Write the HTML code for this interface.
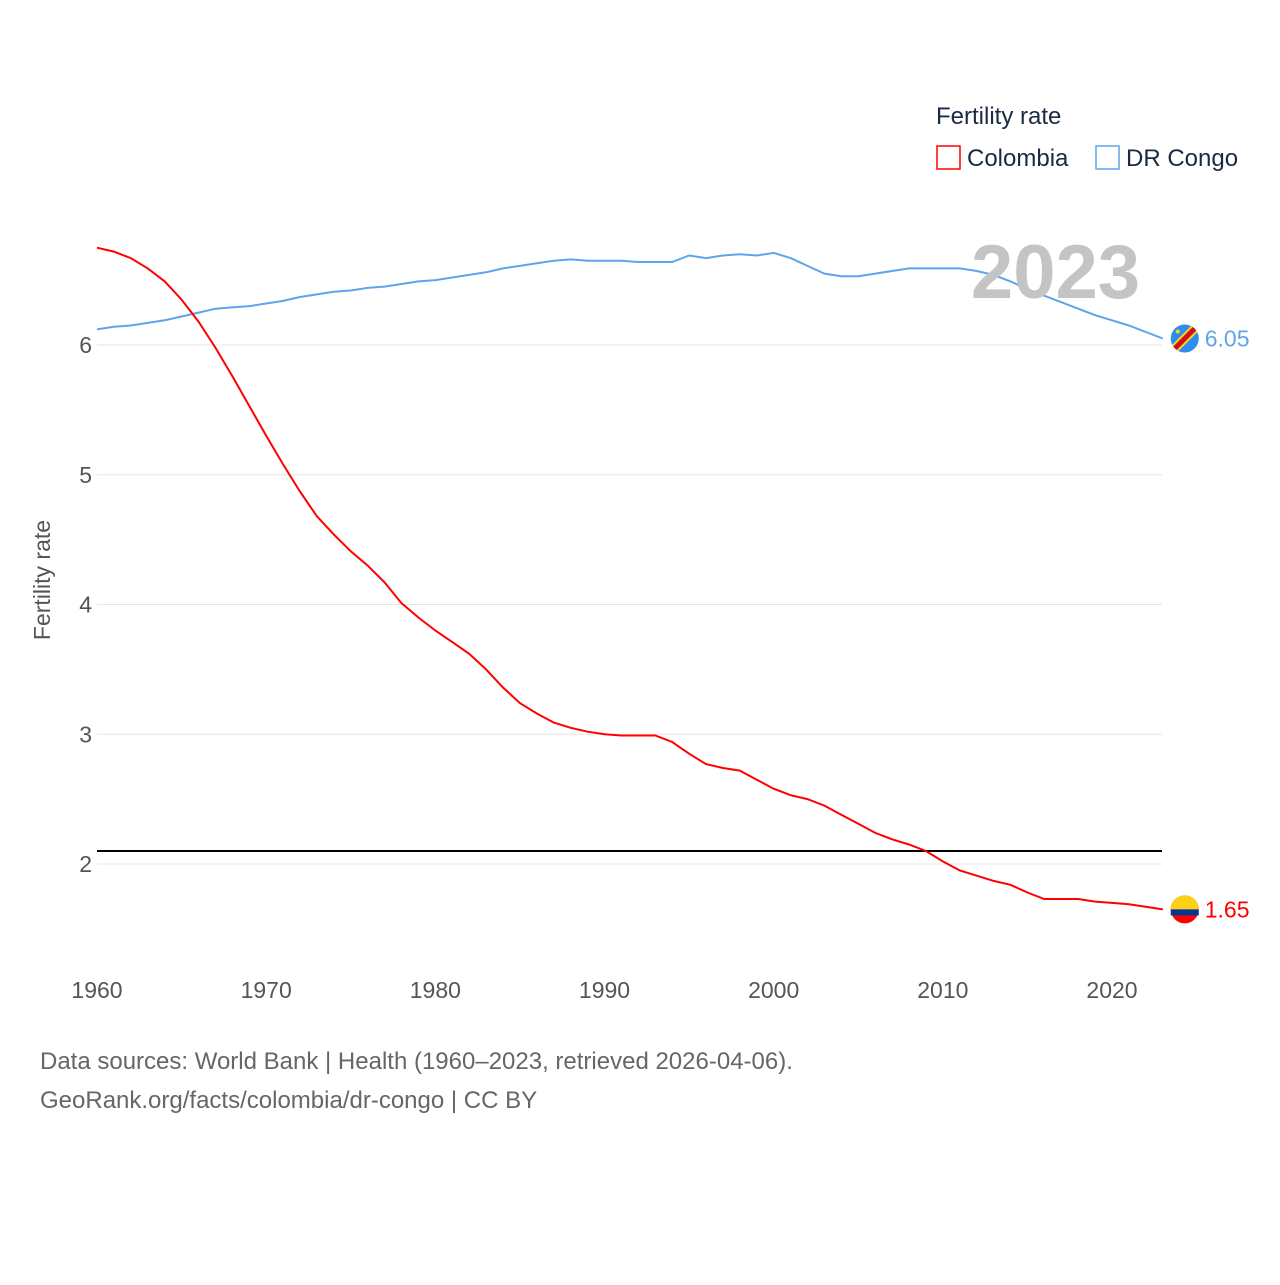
<!DOCTYPE html>
<html><head><meta charset="utf-8">
<style>
body{margin:0;background:#fff;font-family:"Liberation Sans",sans-serif;}
svg text{font-family:"Liberation Sans",sans-serif;}
</style></head>
<body>
<svg id="chart" width="1280" height="1280" viewBox="0 0 1280 1280" xmlns="http://www.w3.org/2000/svg">
<rect width="1280" height="1280" fill="#fff"/>
<defs><clipPath id="drcClip"><circle cx="0" cy="0" r="14"/></clipPath></defs>
<g id="grid"></g>
<g id="marks"></g>
<text x="1140" y="298" text-anchor="end" font-size="76" font-weight="bold" fill="#c4c4c4">2023</text>
<text transform="translate(50,580) rotate(-90)" text-anchor="middle" font-size="23" fill="#555">Fertility rate</text>
<text x="936" y="124" font-size="24" fill="#1a2a44">Fertility rate</text>
<g>
<rect x="937" y="146" width="23" height="23" fill="none" stroke="#ff0000" stroke-width="1.5"/>
<text x="967" y="166" font-size="24" fill="#1a2a44">Colombia</text></g>
<g>
<rect x="1096" y="146" width="23" height="23" fill="none" stroke="#5ea4ec" stroke-width="1.5"/>
<text x="1126" y="166" font-size="24" fill="#1a2a44">DR Congo</text></g>
<text x="40" y="1069" font-size="24" fill="#666">Data sources: World Bank | Health (1960–2023, retrieved 2026-04-06).</text>
<text x="40" y="1108" font-size="24" fill="#666">GeoRank.org/facts/colombia/dr-congo | CC BY</text>
</svg>
<script>
const years=[];for(let y=1960;y<=2023;y++)years.push(y);
const colombia=[6.75,6.72,6.67,6.59,6.49,6.35,6.18,5.98,5.76,5.53,5.30,5.08,4.87,4.68,4.54,4.41,4.30,4.17,4.01,3.90,3.80,3.71,3.62,3.50,3.36,3.24,3.16,3.09,3.05,3.02,3.00,2.99,2.99,2.99,2.94,2.85,2.77,2.74,2.72,2.65,2.58,2.53,2.50,2.45,2.38,2.31,2.24,2.19,2.15,2.10,2.02,1.95,1.91,1.87,1.84,1.78,1.73,1.73,1.73,1.71,1.70,1.69,1.67,1.65];
const drcongo=[6.12,6.14,6.15,6.17,6.19,6.22,6.25,6.28,6.29,6.30,6.32,6.34,6.37,6.39,6.41,6.42,6.44,6.45,6.47,6.49,6.50,6.52,6.54,6.56,6.59,6.61,6.63,6.65,6.66,6.65,6.65,6.65,6.64,6.64,6.64,6.69,6.67,6.69,6.70,6.69,6.71,6.67,6.61,6.55,6.53,6.53,6.55,6.57,6.59,6.59,6.59,6.59,6.57,6.54,6.49,6.43,6.38,6.33,6.28,6.23,6.19,6.15,6.10,6.05];
const yTicks=[2,3,4,5,6];
const xTicks=[1960,1970,1980,1990,2000,2010,2020];
const replacement=[2.1];
const X=y=>97+(y-1960)*(1112-97)/60;
const Y=v=>345-(v-6)*129.75;
const NS="http://www.w3.org/2000/svg";
const grid=document.getElementById('grid'),marks=document.getElementById('marks');
function mk(t,a,p){const e=document.createElementNS(NS,t);for(const k in a)e.setAttribute(k,a[k]);p.appendChild(e);return e;}
yTicks.forEach(v=>{
 const l=mk('line',{x1:97,x2:1162,y1:Y(v),y2:Y(v),stroke:'#e6e6e6','stroke-width':1},grid);
 
 
 const t=mk('text',{x:92,y:Y(v)+8,'text-anchor':'end','font-size':23,fill:'#555'},grid);
 t.textContent=v;
 
 
});
xTicks.forEach(v=>{
 const t=mk('text',{x:X(v),y:998,'text-anchor':'middle','font-size':23,fill:'#555'},grid);
 t.textContent=v;
 
 
});
replacement.forEach(v=>{
 const l=mk('line',{x1:97,x2:1162,y1:Y(v),y2:Y(v),stroke:'#000','stroke-width':2},marks);
 
 
});
function series(d,c,name){
 const p=mk('path',{d:d.map((v,i)=>(i?'L':'M')+X(years[i]).toFixed(1)+','+Y(v).toFixed(1)).join(''),fill:'none',stroke:c,'stroke-width':2},marks);
 
 
 const last=d[d.length-1],cx=X(years[years.length-1])+22,cy=Y(last);
 const g=mk('g',{},marks);
 
 
 mk('circle',{cx:cx,cy:cy,r:14,fill:c},g);
 const t=mk('text',{x:cx+20,y:cy+8,'font-size':23,fill:c},marks);
 t.textContent=last.toFixed(2);
 
 
 return g;
}
const dg=series(drcongo,'#5ea4ec','dr-congo');
const dx=X(2023)+22,dy=Y(drcongo[drcongo.length-1]);
const dflag=mk('g',{transform:`translate(${dx},${dy})`,'clip-path':'url(#drcClip)'},dg);
mk('circle',{cx:0,cy:0,r:14,fill:'#2e8cf0'},dflag);
mk('line',{x1:-16,y1:16,x2:16,y2:-16,stroke:'#f7d618','stroke-width':9},dflag);
mk('line',{x1:-16,y1:16,x2:16,y2:-16,stroke:'#ce1021','stroke-width':5},dflag);
mk('circle',{cx:-7,cy:-7,r:2,fill:'#f7d618'},dflag);
const cg=series(colombia,'#ff0000','colombia');
const cx=X(2023)+22,cy=Y(1.65);
mk('path',{d:`M${cx-14},${cy} A14,14 0 0 1 ${cx+14},${cy} Z`,fill:'#fcd116'},cg);
mk('rect',{x:cx-14,y:cy,width:28,height:6,fill:'#003893'},cg);
</script>
</body></html>
